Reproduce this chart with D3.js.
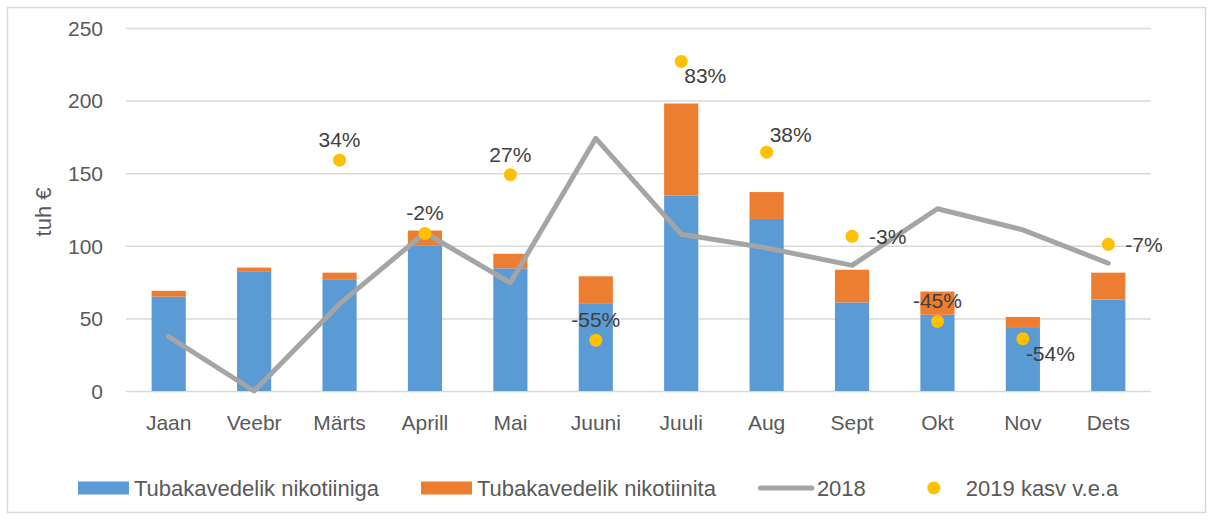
<!doctype html>
<html>
<head>
    <meta charset="utf8">
    <style>
        body { margin: 0; background: #fff; }
        svg { font-family: "Liberation Sans", Arial, sans-serif; }
        .grid line { stroke: #d9d9d9; stroke-width: 1.5; }
        .grid .domain { display: none; }
        .grid text { fill: #595959; font-size: 21px; }
        .xaxis .domain { display: none; }
        .xaxis text { fill: #595959; font-size: 21px; }
        .lbl { fill: #404040; font-size: 21px; }
        .legend text { fill: #595959; font-size: 22px; }
    </style>
    <script src="https://d3js.org/d3.v7.min.js"></script>
</head>
<body>
<svg width="1213" height="520"></svg>
<script>

    // data
    var months = ["Jaan", "Veebr", "Märts", "Aprill", "Mai", "Juuni", "Juuli", "Aug", "Sept", "Okt", "Nov", "Dets"];
    var withNicotine = [65, 82.5, 77, 100, 84.5, 60, 134.5, 118.5, 61, 52.5, 44, 63];
    var withoutNicotine = [4, 2.5, 4.5, 10.5, 10, 19, 63.5, 18.5, 22.5, 16, 7, 18.5];
    var line2018 = [37.5, 0, 60, 109, 74.5, 174, 108, 98.5, 86.5, 125.5, 111, 88];
    var growth2019 = [null, null, 159, 108.5, 149, 35, 227, 164.5, 106.5, 48, 36, 101];
    var growthLabels = [null, null, "34%", "-2%", "27%", "-55%", "83%", "38%", "-3%", "-45%", "-54%", "-7%"];
    var yTicks = [0, 50, 100, 150, 200, 250];
    var seriesNames = ["Tubakavedelik nikotiiniga", "Tubakavedelik nikotiinita", "2018", "2019 kasv v.e.a"];

    // where each % label sits next to its dot
    var labelPlace = [null, null, "above", "above", "above", "above", "belowRight", "aboveRight", "right", "above", "belowRight", "right"];

    var colors = { blue: "#5b9bd5", orange: "#ed7d31", gray: "#a5a5a5", yellow: "#ffc000" };

    var svg = d3.select("svg");

    // outer frame
    svg.append("rect")
       .attr("x", 7.5).attr("y", 7.5)
       .attr("width", 1198).attr("height", 505)
       .attr("fill", "none")
       .attr("stroke", "#d9d9d9")
       .attr("stroke-width", 1.5);

    var plotLeft = 126, plotRight = 1151, plotTop = 28, plotBottom = 391;

    var x = d3.scaleBand().domain(months).range([plotLeft, plotRight]).paddingInner(0.6).paddingOuter(0.3);
    var y = d3.scaleLinear().domain([0, 250]).range([plotBottom, plotTop]);
    var cx = function(m) { return x(m) + x.bandwidth() / 2; };

    // gridlines + y labels
    var gy = svg.append("g")
        .attr("class", "grid")
        .attr("transform", "translate(" + plotLeft + ",0)")
        .call(d3.axisLeft(y).tickValues(yTicks).tickSize(-(plotRight - plotLeft)).tickPadding(23));
    gy.selectAll("text").attr("dy", "0.35em");

    // x labels
    svg.append("g")
       .attr("class", "xaxis")
       .attr("transform", "translate(0," + plotBottom + ")")
       .call(d3.axisBottom(x).tickSize(0).tickPadding(24));

    // y title
    svg.append("text")
       .attr("transform", "translate(51,212) rotate(-90)")
       .attr("text-anchor", "middle")
       .attr("fill", "#595959")
       .attr("font-size", "22px")
       .text("tuh €");

    // stacked bars
    var stackData = months.map(function(m, i) {
        return { month: m, a: withNicotine[i], b: withoutNicotine[i] };
    });

    svg.append("g").selectAll("rect")
       .data(stackData)
       .enter().append("rect")
       .attr("x", function(d) { return x(d.month); })
       .attr("width", x.bandwidth())
       .attr("y", function(d) { return y(d.a); })
       .attr("height", function(d) { return y(0) - y(d.a); })
       .attr("fill", colors.blue);

    svg.append("g").selectAll("rect")
       .data(stackData)
       .enter().append("rect")
       .attr("x", function(d) { return x(d.month); })
       .attr("width", x.bandwidth())
       .attr("y", function(d) { return y(d.a + d.b); })
       .attr("height", function(d) { return y(d.a) - y(d.a + d.b); })
       .attr("fill", colors.orange);

    // 2018 line
    var line = d3.line()
        .x(function(d, i) { return cx(months[i]); })
        .y(function(d) { return y(d); });

    svg.append("path")
       .datum(line2018)
       .attr("d", line)
       .attr("fill", "none")
       .attr("stroke", colors.gray)
       .attr("stroke-width", 5)
       .attr("stroke-linejoin", "round")
       .attr("stroke-linecap", "round");

    // 2019 growth dots
    var dots = months.map(function(m, i) {
        return { month: m, v: growth2019[i], label: growthLabels[i], place: labelPlace[i] };
    }).filter(function(d) { return d.v != null; });

    svg.append("g").selectAll("circle")
       .data(dots)
       .enter().append("circle")
       .attr("cx", function(d) { return cx(d.month); })
       .attr("cy", function(d) { return y(d.v); })
       .attr("r", 6.5)
       .attr("fill", colors.yellow);

    svg.append("g").selectAll("text")
       .data(dots)
       .enter().append("text")
       .attr("class", "lbl")
       .attr("x", function(d) {
           var px = cx(d.month);
           if (d.place == "above") return px;
           if (d.place == "right") return px + 17;
           return px + 3;
       })
       .attr("y", function(d) {
           var py = y(d.v);
           if (d.place == "above") return py - 13;
           if (d.place == "right") return py + 7.5;
           if (d.place == "aboveRight") return py - 10;
           return py + 22;
       })
       .attr("text-anchor", function(d) { return d.place == "above" ? "middle" : "start"; })
       .text(function(d) { return d.label; });

    // legend
    var legend = svg.append("g").attr("class", "legend");
    var ly = 488, lx = 78, gap = 42;
    seriesNames.forEach(function(name, i) {
        var g = legend.append("g").attr("transform", "translate(" + lx + ",0)");
        if (i < 2) {
            g.append("rect").attr("x", 0).attr("y", ly - 6.5).attr("width", 51).attr("height", 13)
             .attr("fill", i == 0 ? colors.blue : colors.orange);
        } else if (i == 2) {
            g.append("line").attr("x1", 2.5).attr("x2", 54).attr("y1", ly).attr("y2", ly)
             .attr("stroke", colors.gray).attr("stroke-width", 5).attr("stroke-linecap", "round");
        } else {
            g.append("circle").attr("cx", 26).attr("cy", ly).attr("r", 6.5).attr("fill", colors.yellow);
        }
        var tx = i == 3 ? 58 : (i == 2 ? 59 : 56);
        var t = g.append("text").attr("x", tx).attr("y", ly).attr("dy", "0.35em").text(name);
        lx += tx + t.node().getComputedTextLength() + gap;
    });

</script>
</body>
</html>
